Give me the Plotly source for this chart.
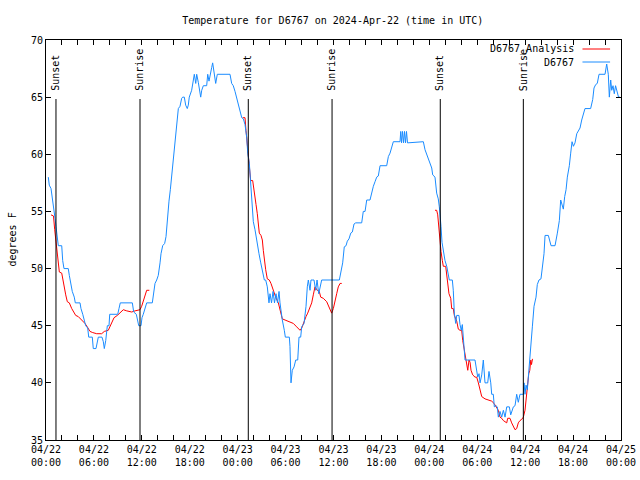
import pandas as pd
import plotly.graph_objects as go

# ---------------- data (hours after 2024-04-22 00:00 UTC, degrees F) ----------------
station_hours = [0.29, 0.41, 0.63, 0.84, 1.0, 1.13, 1.25, 1.41, 1.54, 1.97, 2.09, 2.25, 2.79, 2.92, 3.09, 3.29, 3.54, 3.67,
                 4.26, 4.38, 4.6, 4.8, 4.97, 5.22, 5.35, 5.8, 5.92, 6.26, 6.55, 7.01, 7.18, 7.3, 7.48, 7.68, 7.89, 7.98,
                 8.98, 9.14, 9.3, 10.81, 10.98, 11.31, 11.48, 11.61, 11.9, 12.02, 12.18, 12.4, 12.61, 13.31, 13.44,
                 13.65, 13.86, 14.06, 14.28, 14.4, 14.61, 14.86, 15.03, 15.19, 15.4, 15.57, 15.78, 15.94, 16.03, 16.24,
                 16.37, 16.57, 16.78, 16.99, 17.12, 17.32, 17.49, 17.69, 17.82, 17.94, 18.24, 18.44, 18.57, 18.75, 18.87,
                 19.07, 19.2, 19.37, 19.5, 19.7, 20.12, 20.25, 20.41, 20.54, 20.75, 20.87, 21.04, 21.25, 21.45, 23.04,
                 23.25, 23.45, 23.67, 23.88, 24.08, 24.29, 24.51, 24.71, 24.92, 25.13, 25.26, 25.46, 25.63, 25.76, 25.96,
                 26.17, 26.3, 26.46, 26.67, 26.89, 27.09, 27.34, 27.51, 27.71, 27.92, 28.05, 28.24, 28.43, 28.61, 28.8,
                 28.99, 29.18, 29.3, 29.43, 29.59, 29.84, 29.97, 30.47, 30.55, 30.68, 30.84, 31.06, 31.27, 31.52, 31.68,
                 31.89, 32.02, 32.31, 32.56, 32.72, 32.85, 33.06, 33.18, 33.4, 33.56, 33.77, 33.94, 34.15, 34.31, 34.52,
                 36.73, 36.94, 37.15, 37.35, 37.57, 37.73, 37.94, 38.16, 38.36, 38.57, 38.78, 39.53, 39.73, 39.95, 40.16,
                 40.57, 40.78, 40.99, 41.2, 41.41, 41.61, 41.83, 42.66, 42.87, 43.08, 43.29, 43.49, 44.33, 44.42, 44.52,
                 44.64, 44.77, 44.89, 45.02, 45.14, 45.27, 47.25, 47.46, 47.67, 47.96, 48.09, 48.3, 48.42, 48.71, 48.92,
                 49.12, 49.25, 49.34, 49.46, 49.59, 49.75, 49.96, 50.18, 50.5, 50.88, 51.0, 51.13, 51.3, 51.43, 51.71,
                 51.84, 52.0, 52.13, 52.26, 52.47, 53.72, 53.93, 54.06, 54.22, 54.35, 54.56, 54.76, 54.97, 55.31, 55.47,
                 55.69, 55.81, 56.01, 56.14, 56.35, 56.51, 56.64, 56.85, 57.06, 57.27, 57.48, 57.69, 58.02, 58.19, 58.52,
                 58.73, 58.94, 59.14, 59.35, 59.77, 59.86, 59.98, 60.11, 60.27, 60.45, 60.61, 60.73, 60.9, 61.11, 61.36,
                 61.52, 61.73, 61.98, 62.19, 62.36, 62.49, 62.9, 63.24, 63.74, 64.03, 64.28, 64.45, 64.65, 64.78, 64.95,
                 65.12, 65.28, 65.53, 65.7, 65.87, 66.04, 66.24, 66.46, 66.66, 66.87, 67.08, 67.28, 67.49, 68.2, 68.46,
                 68.62, 68.83, 69.03, 69.25, 70.0, 70.21, 70.41, 70.54, 70.71, 70.84, 71.0, 71.16, 71.32, 71.54, 71.69,
                 71.88]
station_temp = [58, 57.3, 57, 56, 55.4, 54.4, 53.7, 52.5, 52, 52, 50.7, 50, 50, 49.4, 48.8, 48, 47.5, 47,
                47, 46.5, 46, 45.5, 45, 44.8, 44, 44, 43, 43, 44, 44, 43.6, 43, 43.7, 45, 45, 46,
                46, 46.5, 47, 47, 46.2, 46, 45.5, 45, 45, 45.7, 46, 46.5, 47, 47, 47.8,
                48.7, 49, 49.4, 50.5, 51.3, 52, 52.2, 52.8, 54.4, 55.9, 56.9, 58.3, 59.5, 60.5, 61.5,
                62.6, 64, 64.2, 64.9, 65, 65, 64.3, 64, 64.3, 65, 65.6, 66.5, 67, 66.2, 67,
                66.3, 65.6, 65, 65.6, 66, 66, 67, 66.4, 67, 67.6, 68, 67, 66.2, 67, 67,
                66.2, 66, 65.5, 64.9, 64.6, 64, 63.2, 63.1, 62.6, 61.5, 60.1, 59.2, 57.7, 56.6, 54.1,
                53.4, 52.8, 52, 51.3, 50.5, 49.9, 49, 49, 48.4, 47, 47.8, 47, 48, 47, 47.8,
                47, 48, 47, 46.1, 45.5, 44.6, 44, 44, 43.2, 40, 41.1, 41.4, 42, 42, 44,
                44, 44.9, 45.2, 46.7, 48.4, 49, 48.1, 49, 49, 49, 48.1, 49, 47.8, 48.4, 49,
                49, 49.9, 50.5, 51.9, 52, 52.4, 52.6, 53.1, 53.2, 53.9, 54, 54, 55, 55, 56,
                56, 56.7, 57.2, 57.6, 58, 58.1, 59, 59, 59.8, 60.1, 60.7, 61.1, 61.1, 62, 61,
                62, 61, 62, 61, 62, 61, 61.1, 60.4, 60, 59.6, 59.2, 58.8, 58.2, 58, 56.6,
                56.1, 55.4, 54.8, 53.7, 52.3, 51.6, 50.7, 50.2, 49, 49, 48.1, 46.1, 45.2, 45.9, 45.9,
                45.1, 44.6, 45.1, 43.7, 42, 42, 41, 40.5, 40.8, 40, 40.7, 42, 40, 40, 41,
                40, 39, 39, 37.9, 38, 37.9, 37, 37.5, 37, 37.6, 37, 37.9, 37.9, 37.2, 37.9,
                38, 39, 38.3, 39, 39, 40, 39, 39.8, 39.4, 40.8, 42, 43.5, 44.9, 46.7, 47.5,
                48.6, 49, 49.1, 50.2, 51.3, 52.9, 52.9, 52, 52, 53.1, 54.2, 56, 55.4, 55.2, 56.3,
                56.9, 58, 59, 60.1, 61.1, 60.7, 61, 61.8, 62.1, 62.3, 63, 63.4, 64, 64, 64.8,
                65.8, 66.1, 66.2, 67, 67, 67.9, 67, 65, 66.5, 65.6, 66, 65.3, 66, 65.2, 65,
                65]

analysis_hours = [0.63, 0.84, 0.94, 1.09, 1.21, 1.34, 1.54, 1.67, 1.97, 2.17, 2.47, 2.67, 2.92, 3.22, 3.51, 3.72,
                  4.04, 4.47, 4.88, 5.17, 5.51, 5.85, 6.35, 6.97, 7.3, 7.8, 8.23, 8.52, 8.93, 9.27, 9.68, 10.11,
                  10.73, 11.15, 11.77, 11.98, 12.18, 12.4, 12.61, 12.94, None,
                  24.63, 24.92, 25.04, 25.21, 25.33, 25.46, 25.63, 25.88, 26.05, 26.3, 26.46, 26.59, 26.71, 26.92,
                  27.09, 27.21, 27.34, 27.51, 27.71, 27.96, 28.17, 28.46, 28.76, 29.09, 29.39, 29.59, 29.93, 30.55,
                  30.97, 31.39, 31.81, 32.02, 32.31, 32.56, 32.77, 33.06, 33.27, 33.47, 33.68, 33.97, 34.22, 34.4,
                  34.72, 35.15, 35.56, 35.77, 35.98, 36.19, 36.4, 36.6, 36.82, 37.03, None,
                  48.71, 48.92, 49.05, 49.21, 49.34, 49.46, 49.63, 49.75, 50.05, 50.25, 50.46, 50.68, 50.8, 51.0,
                  51.13, 51.43, 51.63, 51.84, 52.05, 52.18, 52.38, 52.56, 52.81, 52.97, 53.1, 53.22, 53.43, 53.72,
                  53.93, 54.14, 54.35, 54.56, 54.97, 55.39, 55.81, 56.1, 56.35, 56.64, 56.85, 57.06, 57.27, 57.48,
                  57.69, 57.81, 58.1, 58.31, 58.52, 58.73, 58.94, 59.14, 59.35, 59.56, 59.77, 59.98, 60.11, 60.27,
                  60.45, 60.58, 60.7, 60.79, 60.92]
analysis_temp = [54.7, 54.6, 54.6, 53.4, 52.5, 51.8, 50.2, 49.7, 49.6, 48.7, 47.7, 47.1, 47, 46.5, 46.1, 45.9,
                 45.8, 45.5, 45.2, 44.9, 44.5, 44.4, 44.3, 44.3, 44.5, 44.6, 45.2, 45.7, 45.9, 46.1, 46.4, 46.3,
                 46.2, 46.3, 46.4, 46.7, 47.1, 47.7, 48.1, 48.1, None,
                 63.2, 63.2, 62.1, 61, 59.9, 58.9, 57.7, 57.7, 56.6, 55.6, 54.8, 54.1, 53.1, 52.9,
                 52.5, 51.6, 50.7, 49.9, 49.1, 49, 48.7, 48.1, 47.5, 47, 46.1, 45.6, 45.5, 45.3,
                 45.2, 44.9, 44.6, 44.8, 45.4, 45.8, 46.1, 46.7, 47, 47.7, 48.4, 48.1, 48, 47.5,
                 47.4, 47.1, 46.5, 46.1, 46.5, 47.3, 47.8, 48.4, 48.7, 48.7, None,
                 55.1, 55.1, 54.7, 53.1, 52.2, 51.5, 50.7, 50.2, 50.2, 48.7, 47.8, 47.4, 46.5, 46.5,
                 45.9, 45.4, 44.7, 44.6, 44.6, 43.7, 42.9, 42, 41.1, 42, 41.8, 41.1, 40.7, 40.5,
                 40.5, 40, 39.4, 38.8, 38.6, 38.5, 38.4, 38.2, 37.9, 37.6, 37, 36.9, 36.7, 36.6,
                 36.5, 36.9, 36.9, 36.5, 36.2, 35.9, 36, 36.5, 36.7, 36.8, 37, 37.6, 38.5, 39.7,
                 40.8, 41.1, 42, 41.6, 42.1]

event_labels = ["Sunset", "Sunrise", "Sunset", "Sunrise", "Sunset", "Sunrise"]
event_hours = [1.25, 11.77, 25.33, 35.82, 49.37, 59.77]

series_names = ["D6767_Analysis", "D6767"]
series_colors = ["#ff0000", "#1a8cff"]
title_text = "Temperature for D6767 on 2024-Apr-22 (time in UTC)"
y_title = "degrees F"

# ---------------- build figure ----------------
base = pd.Timestamp("2024-04-22 00:00")


def to_time(hours):
    return [None if h is None else base + pd.Timedelta(hours=h) for h in hours]


FONT = "DejaVu Sans Mono"
fig = go.Figure()
fig.add_trace(go.Scatter(x=to_time(analysis_hours), y=analysis_temp, mode="lines",
                         line=dict(color=series_colors[0], width=1), connectgaps=False,
                         name=series_names[0], showlegend=False))
fig.add_trace(go.Scatter(x=to_time(station_hours), y=station_temp, mode="lines",
                         line=dict(color=series_colors[1], width=1),
                         name=series_names[1], showlegend=False))

for lab, h in zip(event_labels, event_hours):
    t = base + pd.Timedelta(hours=h)
    fig.add_shape(type="line", xref="x", yref="paper", x0=t, x1=t, y0=0, y1=0.8525,
                  line=dict(color="black", width=1))
    fig.add_annotation(x=t, xref="x", yref="paper", y=0.868, text=lab, textangle=-90,
                       showarrow=False, xanchor="center", yanchor="bottom",
                       font=dict(family=FONT, size=10, color="black"))

# gnuplot-style key: text then sample line
legend_rows_y = [0.9775, 0.945]
for name, col, yy in zip(series_names, series_colors, legend_rows_y):
    fig.add_annotation(x=0.922, y=yy, xref="paper", yref="paper", text=name, showarrow=False,
                       xanchor="right", yanchor="middle", font=dict(family=FONT, size=10, color="black"))
    fig.add_shape(type="line", xref="paper", yref="paper", x0=0.933, x1=0.981, y0=yy, y1=yy,
                  line=dict(color=col, width=1))

fig.add_annotation(x=-0.06, y=0.5, xref="paper", yref="paper", text=y_title, textangle=-90,
                   showarrow=False, xanchor="center", yanchor="middle",
                   font=dict(family=FONT, size=10, color="black"))

fig.update_layout(
    width=640, height=480,
    margin=dict(l=46, r=19, t=40, b=40, autoexpand=False),
    paper_bgcolor="white", plot_bgcolor="white",
    font=dict(family=FONT, size=10, color="black"),
    title=dict(text=title_text, x=0.52, xref="container", y=1 - 20 / 480, yref="container",
               xanchor="center", yanchor="middle", font=dict(family=FONT, size=10, color="black")),
    showlegend=False,
)
fig.update_xaxes(type="date", range=[base, base + pd.Timedelta(hours=72)], automargin=False,
                 dtick=6 * 3600 * 1000, tick0=base, tickformat="%m/%d<br>%H:%M",
                 ticks="inside", ticklen=5, tickcolor="black", showline=True, linecolor="black",
                 linewidth=1, mirror="allticks", showgrid=False, zeroline=False,
                 minor=dict(dtick=2 * 3600 * 1000, ticks="inside", ticklen=5, tickcolor="black", showgrid=False))
fig.update_yaxes(range=[35, 70], dtick=5, ticks="inside", ticklen=5, tickcolor="black", automargin=False,
                 showline=True, linecolor="black", linewidth=1, mirror="allticks",
                 showgrid=False, zeroline=False)

fig.write_html("out.html")
